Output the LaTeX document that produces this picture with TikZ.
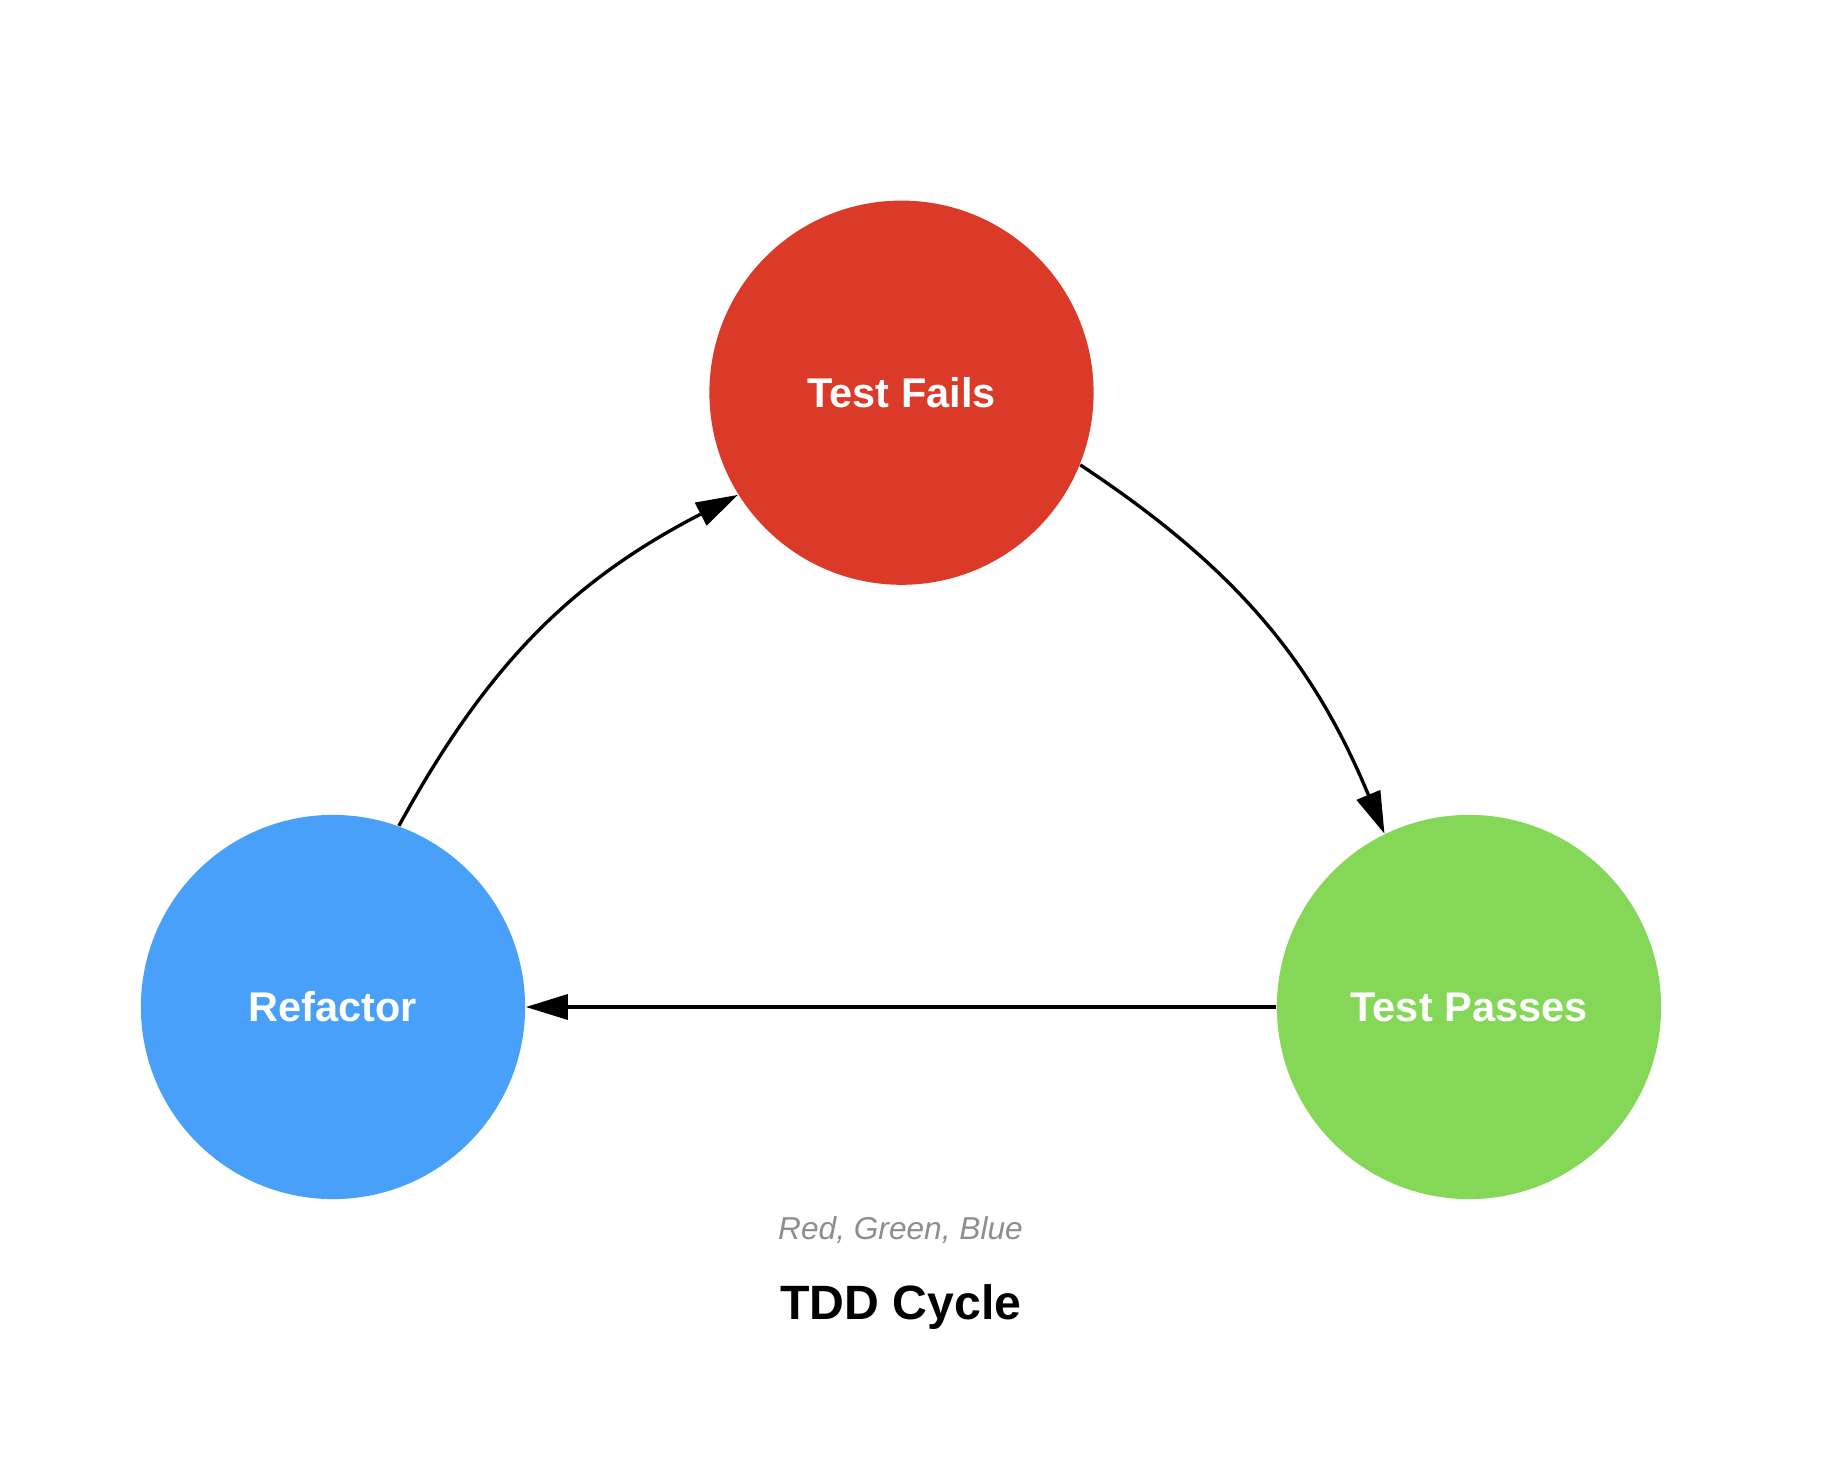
\documentclass[tikz,border=0pt]{standalone}
\usepackage{fontspec}
\setmainfont{Liberation Sans}
\usetikzlibrary{arrows.meta}

\definecolor{failred}{HTML}{DA3A27}
\definecolor{passgreen}{HTML}{84D757}
\definecolor{refblue}{HTML}{48A0F8}
\definecolor{notegray}{HTML}{8E8E8E}

\begin{document}
\begin{tikzpicture}[x=0.01cm,y=-0.01cm,
  phase/.style={circle,minimum size=3.84cm,inner sep=0pt,text=white,
    font=\bfseries\fontsize{11.8}{14}\selectfont},
  flow/.style={-{Triangle[length=0.42cm,width=0.25cm]},line width=0.95pt}]
  \useasboundingbox (0,0) rectangle (1838,1458);
  \node [phase,fill=failred] (fails) at (901.5,392.7) {Test Fails};
  \node [phase,fill=passgreen] (passes) at (1469,1007) {Test Passes};
  \node [phase,fill=refblue] (refactor) at (333,1007) {Refactor};
  \draw [flow] (fails.-22.7) to [bend left=17] (passes.116.8);
  \draw [flow] (passes) -- (refactor);
  \draw [flow] (refactor.70.9) to [bend left=17] (fails.212.9);
  \node [anchor=base,text=notegray,font=\itshape\fontsize{9}{11}\selectfont] (note) at (900.5,1239) {Red, Green, Blue};
  \node [anchor=base,font=\bfseries\fontsize{13.7}{16}\selectfont] (title) at (901,1320) {TDD Cycle};
\end{tikzpicture}
\end{document}
